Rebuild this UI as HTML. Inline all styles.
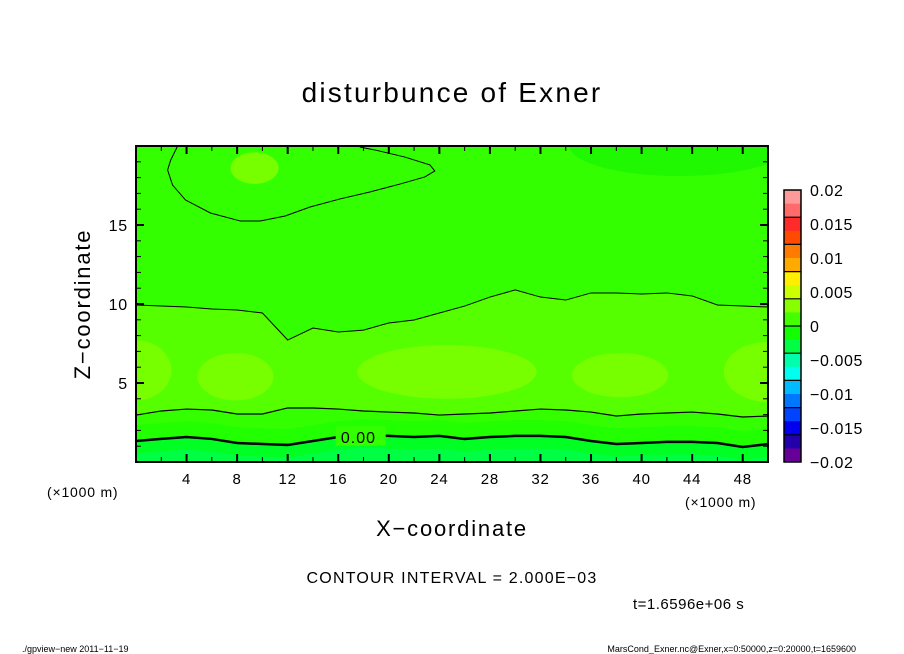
<!DOCTYPE html>
<html><head><meta charset="utf-8"><style>
html,body{margin:0;padding:0;background:#fff}
svg{display:block;font-family:"Liberation Sans",sans-serif}
</style></head><body>
<svg id="chart" width="904" height="654" viewBox="0 0 904 654">
<defs><clipPath id="pc"><rect x="136" y="146" width="632" height="316"/></clipPath></defs>
<text x="452" y="102" text-anchor="middle" font-size="28" letter-spacing="2.2">disturbunce of Exner</text>
<g id="plot" clip-path="url(#pc)"></g>
<g id="lines" clip-path="url(#pc)"></g>
<rect x="136" y="146" width="632" height="316" fill="none" stroke="#000" stroke-width="2"/>
<g id="axes"></g>
<text x="90" y="304" transform="rotate(-90 90 304)" text-anchor="middle" font-size="22" letter-spacing="1.8">Z−coordinate</text>
<text x="452" y="536" text-anchor="middle" font-size="22" letter-spacing="1.8">X−coordinate</text>
<text x="47" y="497" font-size="14" letter-spacing="0.8">(×1000 m)</text>
<text x="685" y="507" font-size="14" letter-spacing="0.8">(×1000 m)</text>
<g id="cbar"></g>
<text x="452" y="583" text-anchor="middle" font-size="16" letter-spacing="1.2">CONTOUR INTERVAL = 2.000E−03</text>
<text x="633" y="609" font-size="15" letter-spacing="0.5">t=1.6596e+06 s</text>
<text x="22" y="652" font-size="9">./gpview−new  2011−11−19</text>
<text x="856" y="652" text-anchor="end" font-size="9">MarsCond_Exner.nc@Exner,x=0:50000,z=0:20000,t=1659600</text>
</svg>
<script>
const xs=[0,2,4,6,8,10,12,14,16,18,20,22,24,26,28,30,32,34,36,38,40,42,44,46,48,50];
const zeroLine=[1.33,1.46,1.58,1.46,1.2,1.14,1.08,1.33,1.58,1.71,1.65,1.58,1.65,1.46,1.58,1.65,1.65,1.58,1.33,1.14,1.2,1.27,1.27,1.2,0.95,1.14];
const line3=[2.97,3.23,3.35,3.29,3.04,3.04,3.42,3.42,3.35,3.23,3.16,3.1,2.97,3.04,3.1,3.23,3.35,3.29,3.16,2.91,3.04,3.1,3.16,3.04,2.85,2.91];
const line10=[9.94,9.87,9.81,9.68,9.62,9.43,7.72,8.48,8.23,8.35,8.8,8.99,9.43,9.87,10.44,10.89,10.44,10.25,10.7,10.7,10.63,10.7,10.51,9.94,9.87,9.81];
const loopX=[3.29,2.74,2.5,2.89,3.92,5.89,8.26,9.83,11.8,13.77,16.14,18.5,20.88,22.85,23.64,23.25,21.27,18.9,17.7];
const loopZ=[20,19.1,18.48,17.53,16.58,15.76,15.25,15.25,15.57,16.14,16.65,17.09,17.59,18.04,18.42,18.8,19.3,19.75,19.94];
const blobCx=[9.38,0,7.87,24.6,38.3,50];
const blobCz=[18.6,5.8,5.4,5.7,5.5,5.7];
const blobRx=[1.9,2.8,3,7.1,3.8,3.5];
const blobRz=[1.0,1.9,1.5,1.7,1.4,1.9];
const xTicks=[4,8,12,16,20,24,28,32,36,40,44,48];
const zTicks=[5,10,15];
const cbLevels=[0.02,0.015,0.01,0.005,0,-0.005,-0.01,-0.015,-0.02];
const cbLabels=["0.02","0.015","0.01","0.005","0","−0.005","−0.01","−0.015","−0.02"];
const cbColors=["#ff9a9a","#ff6a6a","#ff2a2a","#ff4a00","#ff7a00","#ffaa00","#ffee00","#ccff00","#88ff00","#44ff00","#11ff00","#00ff44","#00ffaa","#00ffee","#00bbff","#0077ff","#0044ff","#0000ee","#2200aa","#660099"];

const X=v=>136+v*632/50, Z=v=>462-v*316/20;
const C=v=>190+(0.02-v)*272/0.04;
const NS="http://www.w3.org/2000/svg";
function mk(t,a,p){const e=document.createElementNS(NS,t);for(const k in a)e.setAttribute(k,a[k]);p.appendChild(e);return e;}
const plot=document.getElementById('plot'),lines=document.getElementById('lines'),axes=document.getElementById('axes'),cb=document.getElementById('cbar');
function pts(arr,off){return xs.map((x,i)=>X(x)+','+Z(arr[i]+(off||0))).join(' ');}
let r=mk('rect',{x:136,y:146,width:632,height:316,fill:'#33ff00'},plot);


let tr=mk('ellipse',{cx:X(43),cy:Z(20),rx:8.7*632/50,ry:1.9*316/20,fill:'#1ff800'},plot);


let p1=mk('polygon',{points:pts(line10)+' '+X(50)+','+Z(0)+' '+X(0)+','+Z(0),fill:'#55ff00'},plot);


blobCx.forEach((c,i)=>{
 let b=mk('ellipse',{cx:X(c),cy:Z(blobCz[i]),rx:blobRx[i]*632/50,ry:blobRz[i]*316/20,fill:'#77ff00'},plot);
 
 
});
let p2=mk('polygon',{points:pts(line3)+' '+X(50)+','+Z(0)+' '+X(0)+','+Z(0),fill:'#33ff00'},plot);


let p2b=mk('polygon',{points:pts(zeroLine,1.0)+' '+X(50)+','+Z(0)+' '+X(0)+','+Z(0),fill:'#22ff00'},plot);


let p3=mk('polygon',{points:pts(zeroLine)+' '+X(50)+','+Z(0)+' '+X(0)+','+Z(0),fill:'#00ff22'},plot);


let p4=mk('polygon',{points:pts(zeroLine,-0.8)+' '+X(50)+','+Z(0)+' '+X(0)+','+Z(0),fill:'#00ff44'},plot);


let l10=mk('polyline',{points:pts(line10),fill:'none',stroke:'#000','stroke-width':1},lines);


let l3=mk('polyline',{points:pts(line3),fill:'none',stroke:'#000','stroke-width':1.2},lines);


let l0=mk('polyline',{points:pts(zeroLine),fill:'none',stroke:'#000','stroke-width':2.5},lines);


let lp=mk('polyline',{points:loopX.map((x,i)=>X(x)+','+Z(loopZ[i])).join(' '),fill:'none',stroke:'#000','stroke-width':1},lines);


let bgl=mk('rect',{x:X(15.8),y:Z(2.3),width:50,height:20,fill:'#33ff00'},lines);


let zl=mk('text',{x:X(17.6),y:Z(1.2),'text-anchor':'middle','font-size':16,'letter-spacing':1},lines);
zl.textContent='0.00';


for(let v=2;v<50;v+=2){const big=v%4==0,L=big?8:5;
 let t1=mk('line',{x1:X(v),x2:X(v),y1:462,y2:462-L,stroke:'#000','stroke-width':big?2:1},axes);
 
 
 let t2=mk('line',{x1:X(v),x2:X(v),y1:146,y2:146+L,stroke:'#000','stroke-width':big?2:1},axes);
 
 }
for(let v=1;v<20;v++){const big=v%5==0,L=big?8:5;
 let t1=mk('line',{x1:136,x2:136+L,y1:Z(v),y2:Z(v),stroke:'#000','stroke-width':big?2:1},axes);
 
 
 let t2=mk('line',{x1:768,x2:768-L,y1:Z(v),y2:Z(v),stroke:'#000','stroke-width':big?2:1},axes);
 
 }
xTicks.forEach(v=>{let t=mk('text',{x:X(v),y:484,'text-anchor':'middle','font-size':15,'letter-spacing':0.8},axes);t.textContent=v;
 
 });
zTicks.forEach(v=>{let t=mk('text',{x:128,y:Z(v)+6,'text-anchor':'end','font-size':16,'letter-spacing':0.8},axes);t.textContent=v;
 
 });
cbColors.forEach((c,i)=>{const v0=0.02-i*0.002;
 let b=mk('rect',{x:784,y:C(v0),width:17,height:C(v0-0.002)-C(v0)+0.3,fill:c},cb);
 
 });
for(let v=0.016;v>-0.0195;v-=0.004){let s=mk('line',{x1:784,x2:801,y1:C(v),y2:C(v),stroke:'#000','stroke-width':1.2},cb);
 
 }
let fr=mk('rect',{x:784,y:190,width:17,height:272,fill:'none',stroke:'#000','stroke-width':1.5},cb);


cbLevels.forEach((v,i)=>{let t=mk('text',{x:810,y:C(v)+6,'font-size':16,'letter-spacing':0.6},cb);t.textContent=cbLabels[i];
 
 });
</script>
</body></html>
